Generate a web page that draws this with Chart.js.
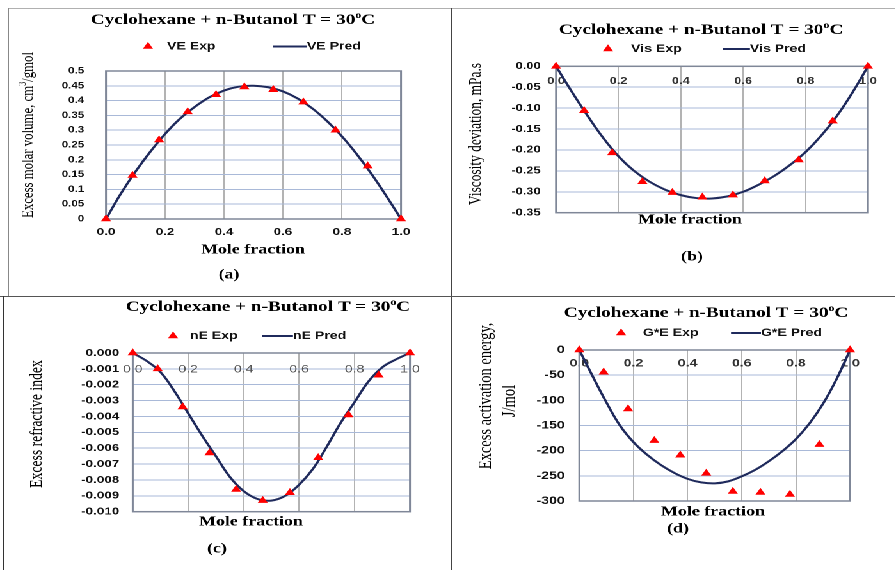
<!DOCTYPE html>
<html>
<head>
<meta charset="utf-8">
<script src="https://cdn.jsdelivr.net/npm/chart.js@4"></script>
<style>
  html, body { margin: 0; background: #fff; }
  /* the source figure is stretched sideways, so the whole sheet is drawn narrow and widened */
  #fig { position: absolute; left: 0; top: 0; width: 700px; height: 570px; transform: scaleX(1.28); transform-origin: 0 0; }
  .cell { position: absolute; }
  .rule { position: absolute; }
</style>
</head>
<body>
<div id="fig">
  <div class="cell" style="left:0;top:0;width:351px;height:295px"><canvas id="ca"></canvas></div>
  <div class="cell" style="left:351px;top:0;width:349px;height:295px"><canvas id="cb"></canvas></div>
  <div class="cell" style="left:0;top:295px;width:351px;height:275px"><canvas id="cc"></canvas></div>
  <div class="cell" style="left:351px;top:295px;width:349px;height:275px"><canvas id="cd"></canvas></div>

  <div class="rule" style="left:5.5px;top:8px;width:694px;height:1px;background:#b0b0b0"></div>
  <div class="rule" style="left:5.5px;top:8px;width:0.9px;height:288px;background:#888"></div>
  <div class="rule" style="left:352px;top:8px;width:1.1px;height:562px;background:#444"></div>
  <div class="rule" style="left:0;top:295.5px;width:700px;height:1.3px;background:#555"></div>
  <div class="rule" style="left:1.5px;top:296px;width:1.1px;height:274px;background:#333"></div>
</div>

<script>
// ---------- data ----------
const X_EXP = [0, 0.09, 0.18, 0.277, 0.373, 0.469, 0.567, 0.669, 0.778, 0.887, 1.0];
const X_PRED = [0, 0.05, 0.1, 0.15, 0.2, 0.25, 0.3, 0.35, 0.4, 0.45, 0.5,
                0.55, 0.6, 0.65, 0.7, 0.75, 0.8, 0.85, 0.9, 0.95, 1.0];

const VE_EXP = [0, 0.147, 0.267, 0.362, 0.420, 0.446, 0.437, 0.395, 0.300, 0.179, 0];
const VE_PRED = [0, 0.085, 0.160, 0.227, 0.287, 0.338, 0.378, 0.411, 0.434, 0.447, 0.450,
                 0.445, 0.431, 0.407, 0.373, 0.330, 0.279, 0.219, 0.152, 0.078, 0];

const VIS_EXP = [0, -0.106, -0.207, -0.276, -0.302, -0.313, -0.308, -0.274, -0.224, -0.131, 0];
const VIS_PRED = [0, -0.060, -0.117, -0.170, -0.215, -0.250, -0.276, -0.295, -0.308, -0.315, -0.316,
                  -0.311, -0.300, -0.283, -0.262, -0.236, -0.205, -0.166, -0.119, -0.063, 0];

const NE_EXP = [0, -0.0010, -0.0034, -0.0063, -0.0086, -0.0093, -0.0088, -0.0066, -0.0039, -0.0014, 0];
const NE_PRED = [0, -0.0005, -0.0012, -0.0024, -0.0038, -0.0052, -0.0065, -0.0078, -0.0087, -0.0092, -0.0093,
                 -0.0090, -0.0083, -0.0073, -0.0059, -0.0044, -0.0031, -0.0018, -0.0009, -0.0004, 0];

const GE_EXP = [0, -44, -117, -180, -209, -245, -281, -283, -287, -188, 0];
const GE_PRED = [0, -53, -104, -150, -183, -208, -228, -244, -256, -263, -265,
                 -261, -251, -238, -221, -201, -177, -146, -107, -58, 0];

const X_TICKS = [0, 0.2, 0.4, 0.6, 0.8, 1.0];

const RED = "#ff0000";
const NAVY = "#1f2a5c";
const GRID_V = "#b3b3b3";
const GRID_H = "#a9b9d8";
const SERIF = '"Liberation Serif", "Times New Roman", serif';
const SANS = '"Liberation Sans", Arial, sans-serif';

const TITLE = [{ t: "Cyclohexane + n-Butanol T = 30" }, { t: "o", sup: true }, { t: "C" }];

// ---------- text helpers ----------
function richText(ctx, runs, x, y, size, weight) {
  const big = `${weight} ${size}px ${SERIF}`;
  const small = `${weight} ${(size * 0.62).toFixed(1)}px ${SERIF}`;
  let w = 0;
  runs.forEach((r) => { ctx.font = r.sup ? small : big; w += ctx.measureText(r.t).width; });
  let cx = x - w / 2;
  ctx.textAlign = "left";
  runs.forEach((r) => {
    ctx.font = r.sup ? small : big;
    ctx.fillText(r.t, cx, r.sup ? y - size * 0.3 : y);
    cx += ctx.measureText(r.t).width;
  });
}

const decor = {
  id: "decor",
  beforeDatasetsDraw(chart) {
    const { ctx, chartArea: a } = chart;
    ctx.save();
    ctx.strokeStyle = "#7f8798";
    ctx.lineWidth = 1.5;
    ctx.strokeRect(a.left, a.top, a.right - a.left, a.bottom - a.top);
    ctx.restore();
  },
  afterDraw(chart, args, o) {
    const ctx = chart.ctx;
    const [exp, pred] = chart.data.datasets;
    ctx.save();
    ctx.fillStyle = "#000";
    ctx.textBaseline = "middle";

    richText(ctx, TITLE, o.title[0], o.title[1], 15, "bold");

    // legend
    const [tx, ty] = o.legend.tri;
    const r = 4.6;
    ctx.fillStyle = exp.backgroundColor;
    ctx.beginPath();
    ctx.moveTo(tx, ty - r);
    ctx.lineTo(tx + r * 0.866, ty + r / 2);
    ctx.lineTo(tx - r * 0.866, ty + r / 2);
    ctx.closePath();
    ctx.fill();
    ctx.strokeStyle = pred.borderColor;
    ctx.lineWidth = 2;
    ctx.beginPath();
    ctx.moveTo(o.legend.line[0], ty);
    ctx.lineTo(o.legend.line[1], ty);
    ctx.stroke();
    ctx.fillStyle = "#111";
    ctx.font = `bold 11px ${SANS}`;
    ctx.textAlign = "left";
    ctx.fillText(exp.label, o.legend.text1, ty);
    ctx.fillText(pred.label, o.legend.line[1], ty);

    // y axis title, one entry per line
    ctx.fillStyle = "#000";
    o.ytitle.lines.forEach((ln) => {
      ctx.save();
      ctx.translate(ln.x, ln.y);
      ctx.rotate(-Math.PI / 2);
      richText(ctx, ln.runs, 0, 0, o.ytitle.size, "normal");
      ctx.restore();
    });

    richText(ctx, [{ t: "Mole fraction" }], o.xtitle[0], o.xtitle[1], 14, "bold");
    richText(ctx, [{ t: o.cap[0] }], o.cap[1], o.cap[2], 14, "bold");
    ctx.restore();
  },
};

function pts(xs, ys) {
  return xs.map((x, i) => ({ x, y: ys[i] }));
}

function makeChart(id, p) {
  return new Chart(document.getElementById(id), {
    type: "scatter",
    data: {
      datasets: [
        {
          label: p.labels[0], data: pts(X_EXP, p.exp),
          pointStyle: "triangle", pointRadius: 4.6, pointHoverRadius: 4.6,
          backgroundColor: RED, borderColor: RED, borderWidth: 0, clip: false,
        },
        {
          label: p.labels[1], data: pts(X_PRED, p.pred),
          showLine: true, pointRadius: 0, pointHoverRadius: 0,
          borderColor: NAVY, borderWidth: 2, tension: 0.4,
        },
      ],
    },
    options: {
      responsive: true, maintainAspectRatio: false, animation: false, devicePixelRatio: 2,
      layout: { padding: p.pad },
      plugins: { legend: { display: false }, tooltip: { enabled: false }, decor: p.decor },
      scales: {
        x: {
          type: "linear", min: 0, max: 1, position: p.xPos,
          afterFit: (s) => { if (p.xPos === "bottom") s.height = 20; },
          afterBuildTicks: (s) => { s.ticks = X_TICKS.map((v) => ({ value: v })); },
          ticks: { padding: p.xPad, font: p.xFont, color: p.xColor, callback: (v) => v.toFixed(1) },
          grid: { color: GRID_V, drawTicks: false },
          border: { display: false },
        },
        y: {
          min: p.y[0], max: p.y[1],
          afterFit: (s) => { s.width = 40; },
          ticks: {
            stepSize: p.y[2], padding: p.yPad, autoSkip: false,
            font: { family: SANS, size: p.ySize, weight: "bold" }, color: "#111",
            callback: p.yFmt,
          },
          grid: { color: GRID_H, drawTicks: false },
          border: { display: false },
        },
      },
    },
    plugins: [decor],
  });
}

// ---------- (a) ----------
makeChart("ca", {
  labels: ["VE Exp", "VE Pred"], exp: VE_EXP, pred: VE_PRED,
  pad: { left: 42.8, right: 37.7, top: 71, bottom: 56 },
  xPos: "bottom", xPad: 7, xFont: { family: SANS, size: 10.5, weight: "bold" }, xColor: "#111",
  y: [0, 0.5, 0.05], yPad: 17, ySize: 9, yFmt: (v) => String(+v.toFixed(2)),
  decor: {
    title: [182, 20],
    legend: { tri: [115.6, 46.5], text1: 130.5, line: [213.3, 239.8] },
    ytitle: { size: 12.8, lines: [{ x: 22, y: 135, runs: [{ t: "Excess molar volume, cm" }, { t: "3", sup: true }, { t: "/gmol" }] }] },
    xtitle: [197.7, 250],
    cap: ["(a)", 178.9, 275],
  },
});

// ---------- (b) ----------
makeChart("cb", {
  labels: ["Vis Exp", "Vis Pred"], exp: VIS_EXP, pred: VIS_PRED,
  pad: { left: 43.4, right: 21.9, top: 66.3, bottom: 82.3 },
  xPos: { y: 0 }, xPad: 9, xFont: { family: SANS, size: 10, weight: "bold" }, xColor: "#333",
  y: [-0.35, 0, 0.05], yPad: 12, ySize: 10, yFmt: (v) => v.toFixed(2),
  decor: {
    title: [196.7, 30],
    legend: { tri: [124, 49], text1: 142, line: [213.8, 234.9] },
    ytitle: { size: 13.4, lines: [{ x: 21, y: 134, runs: [{ t: "Viscosity deviation, mPa.s" }] }] },
    xtitle: [188.1, 220],
    cap: ["(b)", 189.6, 257],
  },
});

// ---------- (c) ----------
makeChart("cc", {
  labels: ["nE Exp", "nE Pred"], exp: NE_EXP, pred: NE_PRED,
  pad: { left: 63.7, right: 30.7, top: 58, bottom: 58.3 },
  xPos: { y: 0 }, xPad: 10, xFont: { family: SANS, size: 11, weight: "normal" }, xColor: "#555",
  y: [-0.01, 0, 0.001], yPad: 10.5, ySize: 10.5, yFmt: (v) => v.toFixed(3),
  decor: {
    title: [209.4, 12],
    legend: { tri: [135.2, 41], text1: 148.4, line: [204.7, 228.9] },
    ytitle: { size: 13.7, lines: [{ x: 29, y: 129, runs: [{ t: "Excess refractive index" }] }] },
    xtitle: [196.1, 227],
    cap: ["(c)", 169.5, 254],
  },
});

// ---------- (d) ----------
makeChart("cd", {
  labels: ["G*E Exp", "G*E Pred"], exp: GE_EXP, pred: GE_PRED,
  pad: { left: 61.6, right: 35.9, top: 55, bottom: 69 },
  xPos: { y: 0 }, xPad: 7, xFont: { family: SANS, size: 11, weight: "bold" }, xColor: "#333",
  y: [-300, 0, 50], yPad: 11.4, ySize: 11, yFmt: (v) => String(v),
  decor: {
    title: [200.6, 18],
    legend: { tri: [134.2, 38], text1: 151.3, line: [220.1, 243.5] },
    ytitle: {
      size: 14.5,
      lines: [
        { x: 28.7, y: 101, runs: [{ t: "Excess activation energy," }] },
        { x: 47.4, y: 106, runs: [{ t: "J/mol" }] },
      ],
    },
    xtitle: [206, 217],
    cap: ["(d)", 178.7, 234],
  },
});
</script>
</body>
</html>
